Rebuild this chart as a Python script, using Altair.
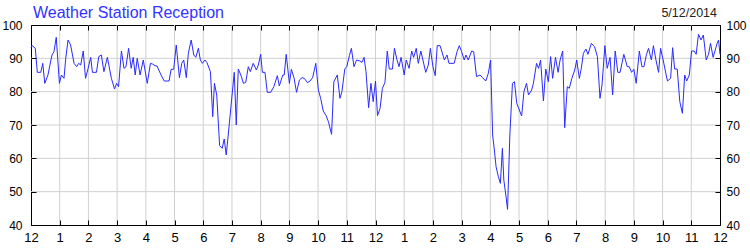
import json
import altair as alt
import pandas as pd

# ---- data (x = months since the first December) ----
months = [
    0.00, 0.04, 0.15, 0.22, 0.34, 0.41, 0.48, 0.59, 0.73, 0.80, 0.88, 0.99, 1.06, 1.15, 1.21, 1.29,
    1.38, 1.50, 1.59, 1.66, 1.73, 1.82, 1.90, 1.99, 2.08, 2.14, 2.28, 2.36, 2.45, 2.54, 2.66, 2.80,
    2.91, 2.98, 3.05, 3.15, 3.24, 3.31, 3.40, 3.49, 3.56, 3.63, 3.70, 3.80, 3.91, 4.05,
    4.16, 4.23, 4.32, 4.39, 4.53, 4.64, 4.81, 4.88, 4.97, 5.06, 5.17, 5.25, 5.32, 5.41, 5.48, 5.58,
    5.67, 5.74, 5.83, 5.90, 5.97, 6.06, 6.13, 6.25, 6.33, 6.39, 6.47, 6.57, 6.66, 6.73, 6.80, 6.87,
    6.97, 7.08, 7.15, 7.22, 7.31, 7.40, 7.48, 7.57, 7.64, 7.74, 7.85, 7.92, 8.00, 8.06, 8.15,
    8.23, 8.35, 8.46, 8.58, 8.65, 8.77, 8.82, 8.89, 9.00, 9.07, 9.16, 9.25, 9.35, 9.44, 9.52, 9.63,
    9.72, 9.81, 9.92, 10.01, 10.09, 10.18, 10.28, 10.36, 10.47, 10.55, 10.67, 10.76, 10.83, 10.93,
    11.00, 11.09, 11.16, 11.25, 11.34, 11.46, 11.53, 11.60, 11.67, 11.76, 11.84, 11.92, 12.00,
    12.07, 12.16,
    12.24, 12.33, 12.41, 12.48, 12.59, 12.66, 12.75, 12.82, 12.89, 13.00, 13.07, 13.17, 13.26, 13.33,
    13.42, 13.49, 13.58, 13.75, 13.84, 13.91, 14.00, 14.08, 14.15, 14.25, 14.40, 14.49, 14.56, 14.74,
    14.84, 14.92, 15.00, 15.09, 15.15, 15.23, 15.35, 15.42, 15.52, 15.64, 15.73, 15.84, 15.93, 16.01,
    16.08, 16.14, 16.20, 16.28, 16.35, 16.42, 16.47, 16.54, 16.60, 16.68, 16.77, 16.84, 16.92, 17.01,
    17.09, 17.17, 17.26, 17.33, 17.44, 17.50, 17.61, 17.68, 17.75, 17.85, 17.93, 18.02, 18.10, 18.17,
    18.27, 18.36, 18.43, 18.52, 18.59, 18.68, 18.75, 18.84, 18.94, 19.01, 19.10, 19.17, 19.24, 19.33,
    19.40, 19.52, 19.63, 19.73, 19.82,
    19.89, 19.99, 20.07, 20.17, 20.26, 20.35, 20.44, 20.52, 20.65, 20.77, 20.84, 20.92, 21.00, 21.08,
    21.19, 21.28, 21.35, 21.44, 21.51, 21.61, 21.68, 21.77, 21.86, 21.93, 22.02, 22.09, 22.17, 22.28,
    22.35, 22.42, 22.51, 22.60, 22.69, 22.77, 22.84, 22.93, 23.01, 23.10, 23.17, 23.25, 23.34, 23.42,
    23.52, 23.60, 23.67, 23.76, 23.90, 23.95, 24.00,
]
reception = [
    93.2, 93.8, 93.0, 85.8, 85.8, 88.5, 82.5, 85.0, 91.0, 92.0, 96.3, 82.5, 85.0, 84.0, 90.0, 95.5,
    94.0, 88.5, 87.5, 88.5, 88.0, 92.2, 84.0, 87.0, 90.3, 85.8, 85.8, 90.5, 91.0, 86.0, 90.3, 84.0,
    80.8, 82.5, 81.5, 92.2, 87.0, 87.5, 93.0, 87.0, 90.3, 85.0, 90.0, 85.0, 89.5, 82.5,
    88.5, 88.3, 87.8, 87.7, 85.0, 83.2, 83.2, 86.7, 86.7, 94.0, 84.2, 88.5, 89.5, 84.2, 91.5, 95.5,
    91.0, 90.3, 93.0, 89.5, 88.5, 89.5, 88.7, 86.0, 72.5, 82.5, 79.0, 63.8, 63.0, 65.8, 61.0, 67.0,
    76.0, 85.8, 70.0, 86.8, 85.0, 82.5, 82.8, 87.5, 86.0, 88.5, 86.5, 88.0, 91.2, 85.8, 85.8,
    79.8, 79.8, 81.5, 84.8, 81.7, 85.0, 85.0, 91.2, 82.5, 86.7, 84.2, 79.8, 83.5, 84.2, 84.0, 82.7,
    83.2, 84.2, 88.5, 80.5, 78.0, 74.2, 72.8, 71.0, 67.2, 83.0, 85.0, 78.0, 80.0, 86.8,
    87.5, 90.8, 93.0, 87.5, 89.5, 89.2, 88.8, 90.3, 86.0, 75.2, 82.5, 77.0, 83.2,
    72.8, 75.0,
    81.0, 82.8, 92.2, 86.8, 86.8, 93.0, 89.5, 87.5, 90.3, 85.0, 89.5, 87.0, 92.2, 90.3,
    93.0, 88.5, 92.2, 85.8, 88.0, 93.0, 87.5, 84.8, 93.8, 93.8, 89.5, 91.0, 88.5, 88.5,
    92.0, 93.8, 92.0, 89.5, 91.0, 89.5, 92.2, 92.0, 84.5, 85.0, 84.2, 83.2, 85.5, 89.5,
    67.0, 62.5, 57.5, 54.5, 52.5, 63.0, 53.5, 49.0, 44.7, 67.0, 82.5, 83.0, 76.5, 74.5,
    72.7, 80.0, 82.5, 79.0, 80.5, 82.5, 88.5, 87.0, 89.5, 77.2, 86.8, 83.0, 90.5, 84.0,
    90.3, 85.8, 89.5, 92.2, 69.2, 81.5, 81.0, 84.0, 86.5, 89.5, 84.0, 87.0, 91.5, 92.8,
    91.2, 94.5, 93.5, 90.5, 78.0,
    82.0, 93.8, 87.0, 90.3, 79.0, 92.2, 85.8, 85.8, 91.2, 87.5, 87.5, 85.8, 86.7, 82.5,
    92.2, 87.5, 87.5, 91.2, 93.0, 89.5, 93.8, 89.5, 85.8, 93.0, 89.5, 86.5, 83.2, 84.0,
    93.2, 86.8, 86.8, 77.0, 73.5, 85.0, 83.2, 85.0, 92.2, 92.2, 91.2, 97.2, 95.5, 97.0,
    89.5, 91.2, 94.5, 90.3, 94.5, 95.5, 91.2,
]
month_ticks = list(range(25))
month_labels = ["12", "1", "2", "3", "4", "5", "6", "7", "8", "9", "10", "11",
                "12", "1", "2", "3", "4", "5", "6", "7", "8", "9", "10", "11", "12"]
y_ticks = [40, 50, 60, 70, 80, 90, 100]
title_text = "Weather Station Reception"
date_text = "5/12/2014"

# ---- tables built from the arrays ----
df = pd.DataFrame({"month": months, "reception": reception})
grid_x = pd.DataFrame({"month": month_ticks[1:-1]})
grid_y = pd.DataFrame({"reception": y_ticks[1:-1]})

FONT = "Liberation Sans"
GRID = "#D0D0D0"
LINE = "#2A2AFF"

xs = alt.Scale(domain=[month_ticks[0], month_ticks[-1]], nice=False, zero=False)
ys = alt.Scale(domain=[y_ticks[0], y_ticks[-1]], nice=False, zero=False)
label_expr = json.dumps(month_labels) + "[datum.value]"

base_axis = dict(domain=False, grid=False, tickSize=5, tickColor="black", tickWidth=1,
                 offset=-5, labelFont=FONT, labelColor="black", labelFlush=False,
                 zindex=1, title=None)

# vertical grid + top axis (ticks only)
vgrid = alt.Chart(grid_x).mark_rule(color=GRID, strokeWidth=1).encode(
    x=alt.X("month:Q", scale=xs,
            axis=alt.Axis(orient="top", values=month_ticks, labels=False, **base_axis))
)
# horizontal grid + right axis
hgrid = alt.Chart(grid_y).mark_rule(color=GRID, strokeWidth=1).encode(
    y=alt.Y("reception:Q", scale=ys,
            axis=alt.Axis(orient="right", values=y_ticks, labelFontSize=12,
                          labelPadding=6, **base_axis))
)
line = alt.Chart(df).mark_line(color=LINE, strokeWidth=1).encode(
    x=alt.X("month:Q", scale=xs,
            axis=alt.Axis(orient="bottom", values=month_ticks, labelExpr=label_expr,
                          labelFontSize=13, labelPadding=6, labelOverlap=False, **base_axis)),
    y=alt.Y("reception:Q", scale=ys,
            axis=alt.Axis(orient="left", values=y_ticks, labelFontSize=12,
                          labelPadding=9, **base_axis)),
)
title = alt.Chart(pd.DataFrame({"t": [title_text]})).mark_text(
    align="left", baseline="alphabetic", font=FONT, fontSize=16, color="#3333FF"
).encode(text="t:N", x=alt.value(2), y=alt.value(-7.5))
date = alt.Chart(pd.DataFrame({"t": [date_text]})).mark_text(
    align="right", baseline="alphabetic", font=FONT, fontSize=12.5, color="#222222"
).encode(text="t:N", x=alt.value(686), y=alt.value(-8.5))

chart = alt.layer(vgrid, hgrid, line, title, date).resolve_axis(
    x="independent", y="independent"
).properties(
    width=689, height=200, autosize="none",
    padding={"left": 31, "top": 25, "right": 30, "bottom": 25},
    background="white",
).configure_view(stroke="black", strokeWidth=1)

chart.save("out.html", embed_options={"renderer": "svg", "actions": False})
